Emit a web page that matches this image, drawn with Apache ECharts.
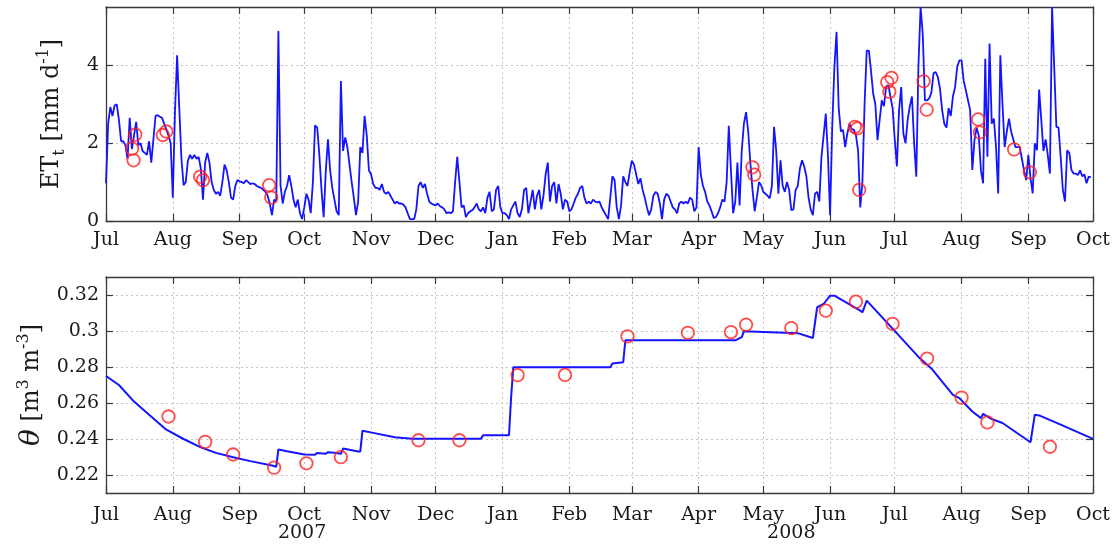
<!DOCTYPE html>
<html><head><meta charset="utf-8">
<script src="https://cdn.jsdelivr.net/npm/echarts@6/dist/echarts.min.js"></script>
<style>html,body{margin:0;padding:0;background:#fff}#chart{width:1116px;height:545px}</style>
</head><body><div id="chart"></div>
<script>
// Day 0 = 2007-07-01
const monthTickDays = [0,31,62,92,123,153,184,215,244,275,305,336,366,397,428,458];
const monthLabels = ['Jul','Aug','Sep','Oct','Nov','Dec','Jan','Feb','Mar','Apr','May','Jun','Jul','Aug','Sep','Oct'];
const yearLabelDays = [91, 318];
const yearLabels = ['2007','2008'];
const etTicks = [0, 2, 4];
const thetaTicks = [0.22, 0.24, 0.26, 0.28, 0.30, 0.32];

// daily ET_t [mm/d], day 0..457
const etValues = [
0.97,2.5,2.93,2.7,2.97,3.0,2.6,2.05,2.05,1.95,
1.6,2.65,1.85,2.2,2.55,1.95,2.0,1.8,1.75,1.7,
2.05,1.5,2.1,2.7,2.72,2.68,2.65,2.5,2.35,2.2,
2.0,0.6,2.8,4.26,2.9,1.6,0.92,1.0,1.55,1.7,
1.6,1.7,1.6,1.65,1.35,0.55,1.5,1.75,1.5,1.0,
0.8,0.7,0.75,0.65,1.0,1.45,1.3,1.0,0.6,0.55,
0.9,1.05,1.02,1.0,0.97,1.05,1.0,0.95,0.97,0.95,
0.9,0.87,0.85,0.8,0.75,0.65,0.45,0.15,0.55,0.5,
4.88,0.9,0.45,0.75,0.9,1.18,0.9,0.55,0.35,0.55,
0.2,0.05,0.35,0.7,0.55,0.2,1.0,2.46,2.4,1.7,
0.8,0.1,1.3,2.1,1.3,0.85,0.55,0.25,0.15,3.6,
1.8,2.15,1.9,1.45,1.0,0.6,0.15,0.5,1.9,1.75,
2.7,2.2,1.3,1.2,0.95,0.85,0.85,0.8,0.95,0.75,
0.7,0.75,0.65,0.55,0.45,0.5,0.45,0.45,0.42,0.35,
0.2,0.05,0.05,0.05,0.3,0.9,1.0,0.85,0.95,0.7,
0.5,0.45,0.42,0.4,0.45,0.38,0.35,0.3,0.2,0.22,
0.2,0.25,1.0,1.65,1.0,0.35,0.4,0.1,0.2,0.25,
0.28,0.35,0.45,0.3,0.25,0.35,0.2,0.6,0.75,0.25,
0.3,0.8,0.9,0.35,0.2,0.2,0.15,0.05,0.3,0.4,
0.5,0.2,0.1,0.3,0.8,0.85,0.2,0.5,0.8,0.3,
0.65,0.8,0.3,0.65,1.2,1.5,0.5,0.9,1.0,0.45,
0.95,0.7,0.3,0.55,0.5,0.25,0.3,0.45,0.6,0.7,
0.85,0.9,0.6,0.45,0.5,0.45,0.55,0.5,0.48,0.5,
0.35,0.25,0.15,0.05,0.6,1.15,1.05,0.35,0.05,0.4,
1.15,1.0,0.9,1.25,1.55,1.45,1.2,0.95,1.1,0.8,
0.6,0.35,0.15,0.3,0.65,0.75,0.7,0.45,0.05,0.55,
0.7,0.65,0.5,0.35,0.3,0.2,0.45,0.5,0.45,0.5,
0.45,0.6,0.55,0.25,0.35,1.9,1.2,0.9,0.75,0.5,
0.4,0.25,0.08,0.1,0.2,0.35,0.55,0.5,1.0,2.45,
1.3,0.2,0.5,1.5,0.4,1.8,2.5,2.8,2.3,1.5,
0.8,0.25,0.6,1.0,0.92,0.75,0.7,0.65,0.58,0.9,
2.42,1.8,0.7,1.56,0.9,0.75,1.0,0.8,0.28,0.3,
0.8,0.9,1.35,1.56,1.4,1.15,0.6,0.3,0.15,0.7,
0.75,0.5,1.65,2.2,2.76,1.7,0.15,2.42,3.96,4.86,
2.9,2.3,2.34,1.9,2.25,2.5,2.36,2.35,2.2,1.8,
0.35,1.0,3.0,4.38,4.38,3.85,3.27,3.0,2.08,2.6,
3.1,2.95,3.45,3.5,3.2,2.9,2.1,1.4,2.85,3.44,
2.25,2.0,2.6,2.95,3.2,2.0,1.14,4.0,5.5,4.8,
3.1,3.1,3.15,3.3,3.8,3.83,3.7,3.4,2.85,2.5,
2.4,2.9,2.7,3.2,3.44,3.96,4.13,4.13,3.6,3.36,
3.1,2.85,1.31,2.08,2.4,2.2,1.3,0.97,4.17,1.65,
4.56,2.5,2.63,1.9,0.71,4.26,3.0,1.9,2.3,2.63,
2.3,2.1,1.9,1.9,1.9,1.6,1.3,1.05,1.7,1.1,
0.71,2.0,1.82,3.38,2.6,1.8,2.1,1.7,1.22,5.5,
3.96,2.42,2.4,1.65,0.8,0.5,1.82,1.75,1.31,1.22,
1.22,1.18,1.3,1.15,1.2,0.97,1.14,1.12
];
const etObsDays   = [12.1,12.8,13.6,26.4,28.0,43.7,45.0,75.7,76.7,300.0,300.8,347.5,348.6,349.5,362.5,363.5,364.5,379.4,380.8,404.7,405.5,421.4,428.7];
const etObsValues = [1.86,1.56,2.22,2.21,2.30,1.14,1.05,0.92,0.60,1.38,1.19,2.42,2.38,0.80,3.57,3.32,3.68,3.59,2.86,2.61,2.28,1.84,1.25];

const thetaDays = [0,6,13,20,28,36,44,51,59,67,77,79,80,84,92,97,98,102,103,106,109,110,117,118,119,124,134,142,174,175,187,188,189,211,234,235,240,241,292,295,296,321,328,330,333,336,338,350,351,353,365,377,383,393,396,402,406,407,411,416,429,431,433,443,458];
const thetaValues = [0.2750,0.2700,0.2608,0.2535,0.2452,0.2400,0.2354,0.2323,0.2299,0.2277,0.2253,0.2246,0.2342,0.2332,0.2314,0.2313,0.2322,0.2318,0.2327,0.2323,0.2318,0.2347,0.2331,0.2331,0.2446,0.2434,0.2410,0.2402,0.2402,0.2421,0.2421,0.2635,0.2798,0.2798,0.2798,0.2820,0.2826,0.2948,0.2948,0.2966,0.2998,0.2988,0.2961,0.3132,0.3150,0.3196,0.3196,0.3113,0.3104,0.3169,0.3013,0.2856,0.2792,0.2645,0.2627,0.2553,0.2516,0.2540,0.2511,0.2489,0.2382,0.2535,0.2531,0.2480,0.2401];
const thetaObsDays   = [29,46,59,78,93,109,145,164,191,213,242,270,290,297,318,334,348,365,381,397,409,438];
const thetaObsValues = [0.2525,0.2384,0.2314,0.2241,0.2265,0.2299,0.2393,0.2393,0.2755,0.2756,0.2970,0.2990,0.2994,0.3035,0.3016,0.3113,0.3163,0.3040,0.2847,0.2630,0.2492,0.2357];

const FONT = 'DejaVu Serif';
const TXT = '#1a1a1a';
const FRAME = '#3a3a3a';
const GRIDC = '#c4c4c4';
const RED = '#ff2020';
const BLUE = '#1414ff';

const monthFmt = v => { const i = monthTickDays.indexOf(Math.round(v)); return i >= 0 ? monthLabels[i] : ''; };
const yearFmt = v => { const i = yearLabelDays.indexOf(Math.round(v)); return i >= 0 ? yearLabels[i] : ''; };

function xAx(gridIndex, position, showLabel, showSplit, margin) {
  return {
    type: 'value', gridIndex, position, min: 0, max: 458,
    axisLine: { show: true, onZero: false, lineStyle: { color: FRAME, width: 1.3 } },
    axisTick: { show: true, inside: true, length: 7, customValues: monthTickDays, lineStyle: { color: FRAME, width: 1.2 } },
    axisLabel: { show: showLabel, customValues: monthTickDays, formatter: monthFmt, margin: margin,
                 fontFamily: FONT, fontSize: 19, color: TXT },
    splitLine: { show: showSplit, lineStyle: { color: GRIDC, type: [2, 3], width: 1 } }
  };
}
function yAx(gridIndex, position, min, max, ticks, showLabel, showSplit, fmt, name, nameGap, rich) {
  return {
    type: 'value', gridIndex, position, min, max,
    axisLine: { show: true, onZero: false, lineStyle: { color: FRAME, width: 1.3 } },
    axisTick: { show: true, inside: true, length: 7, customValues: ticks, lineStyle: { color: FRAME, width: 1.2 } },
    axisLabel: { show: showLabel, customValues: ticks, formatter: fmt, margin: 7,
                 fontFamily: FONT, fontSize: 19, color: TXT },
    splitLine: { show: showSplit, lineStyle: { color: GRIDC, type: [2, 3], width: 1 } },
    name: name || '', nameLocation: 'middle', nameGap: nameGap || 0, nameRotate: 90,
    nameTextStyle: rich ? { rich: rich, color: TXT } : undefined
  };
}

const richTop = {
  a:   { fontFamily: FONT, fontSize: 24, lineHeight: 32, color: TXT },
  sub: { fontFamily: FONT, fontSize: 16, lineHeight: 16, verticalAlign: 'bottom', color: TXT },
  sup: { fontFamily: FONT, fontSize: 16, lineHeight: 16, verticalAlign: 'top', color: TXT }
};
const richBot = {
  th:  { fontFamily: FONT, fontSize: 28, fontStyle: 'italic', lineHeight: 32, color: TXT },
  a:   { fontFamily: FONT, fontSize: 24, lineHeight: 32, color: TXT },
  sup: { fontFamily: FONT, fontSize: 16, lineHeight: 16, verticalAlign: 'top', color: TXT }
};

const chart = echarts.init(document.getElementById('chart'), null, { renderer: 'canvas' });
chart.setOption({
  animation: false,
  backgroundColor: '#ffffff',
  grid: [
    { left: 106, right: 23, top: 7, height: 214, show: false },
    { left: 106, right: 23, top: 277, height: 216, show: false }
  ],
  xAxis: [
    xAx(0, 'bottom', true, true, 10),
    xAx(0, 'top', false, false, 8),
    xAx(1, 'bottom', true, true, 13),
    xAx(1, 'top', false, false, 8),
    {
      type: 'value', gridIndex: 1, position: 'bottom', min: 0, max: 458,
      axisLine: { show: false }, axisTick: { show: false }, splitLine: { show: false },
      axisLabel: { show: true, customValues: yearLabelDays, formatter: yearFmt, margin: 31,
                   fontFamily: FONT, fontSize: 19, color: TXT }
    }
  ],
  yAxis: [
    yAx(0, 'left', 0, 5.5, etTicks, true, true, v => String(v),
        '{a|ET}{sub|t}{a| [mm d}{sup|-1}{a|]}', 38, richTop),
    yAx(0, 'right', 0, 5.5, etTicks, false, false, v => String(v)),
    yAx(1, 'left', 0.21, 0.33, thetaTicks, true, true, v => String(+v.toFixed(2)),
        '{th|θ}{a| [m}{sup|3}{a| m}{sup|-3}{a|]}', 50, richBot),
    yAx(1, 'right', 0.21, 0.33, thetaTicks, false, false, v => String(v))
  ],
  series: [
    { type: 'line', xAxisIndex: 0, yAxisIndex: 0, showSymbol: false, symbol: 'none',
      data: etValues.map((v, i) => [i, v]), clip: true,
      lineStyle: { color: BLUE, width: 1.8 }, z: 2 },
    { type: 'scatter', xAxisIndex: 0, yAxisIndex: 0, symbol: 'circle', symbolSize: 12.5,
      data: etObsDays.map((d, i) => [d, etObsValues[i]]),
      itemStyle: { color: 'rgba(255,255,255,0)', borderColor: RED, borderWidth: 1.8 }, z: 3 },
    { type: 'line', xAxisIndex: 2, yAxisIndex: 2, showSymbol: false, symbol: 'none',
      data: thetaDays.map((d, i) => [d, thetaValues[i]]), clip: true,
      lineStyle: { color: BLUE, width: 2 }, z: 2 },
    { type: 'scatter', xAxisIndex: 2, yAxisIndex: 2, symbol: 'circle', symbolSize: 12.5,
      data: thetaObsDays.map((d, i) => [d, thetaObsValues[i]]),
      itemStyle: { color: 'rgba(255,255,255,0)', borderColor: RED, borderWidth: 1.8 }, z: 3 }
  ]
});
</script>
</body></html>
